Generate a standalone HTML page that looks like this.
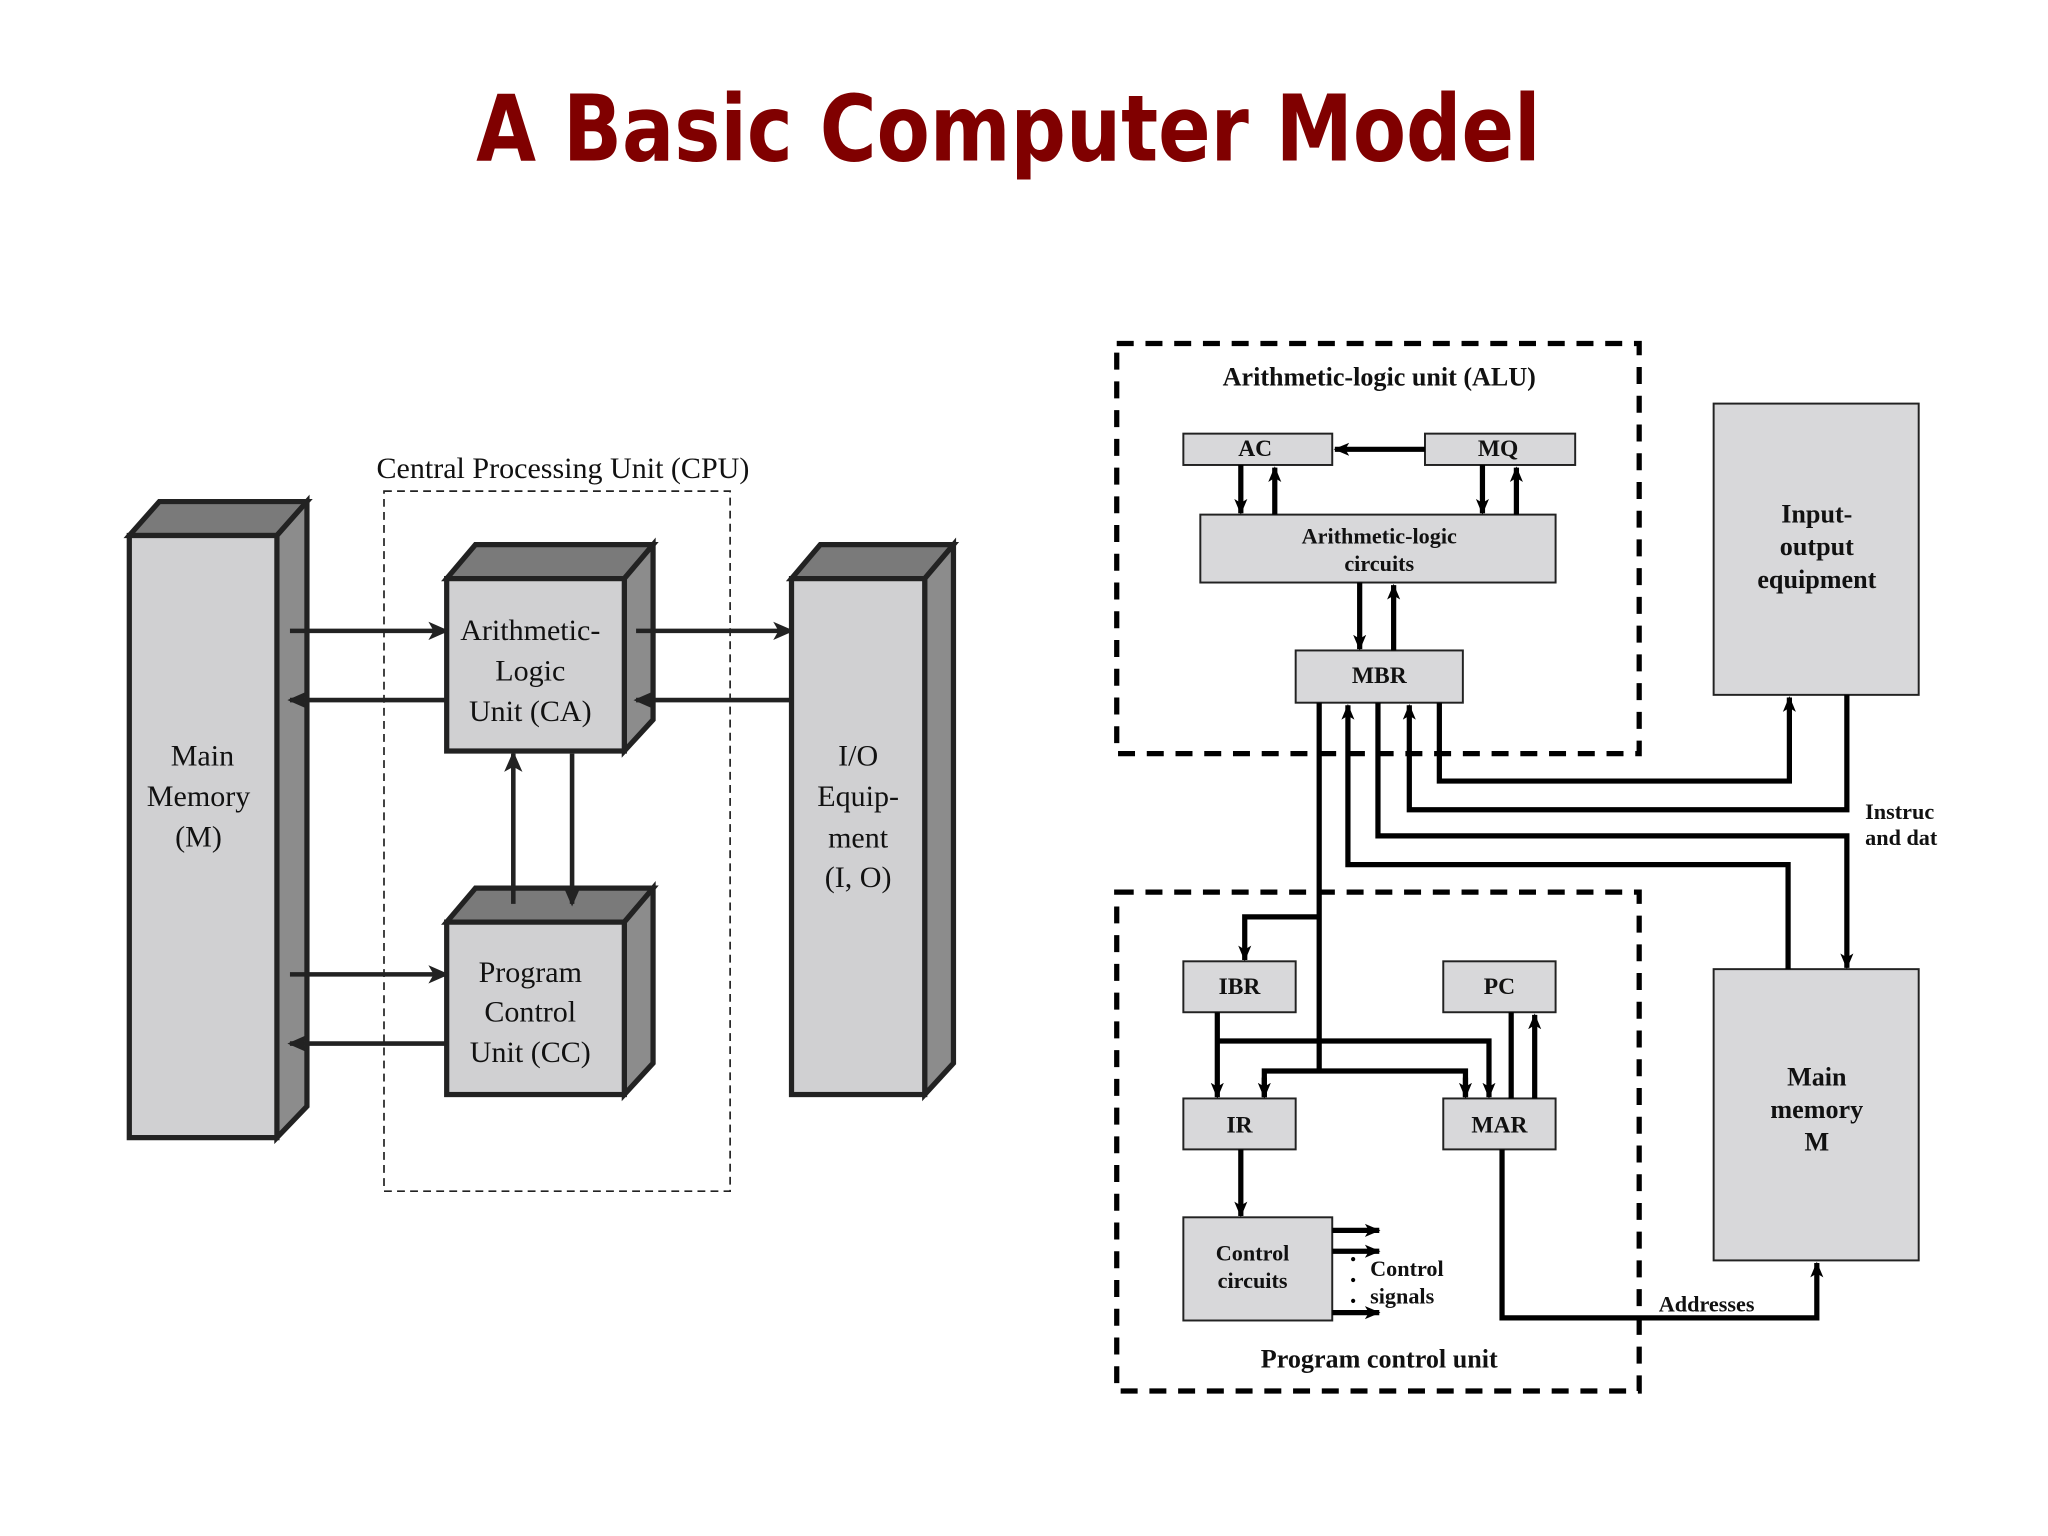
<!DOCTYPE html>
<html><head><meta charset="utf-8"><style>html,body{margin:0;padding:0;background:#fff}svg{display:block}</style></head>
<body>
<svg width="2048" height="1536" viewBox="0 0 1568 1176" xmlns="http://www.w3.org/2000/svg">
<defs>
<marker id="a" markerUnits="userSpaceOnUse" markerWidth="16" markerHeight="14" refX="14" refY="7" orient="auto"><path d="M0,0 L16,7 L0,14 L4,7 Z" fill="#222"/></marker>
<marker id="b" markerUnits="userSpaceOnUse" markerWidth="12" markerHeight="12" refX="11" refY="6" orient="auto"><path d="M0,1 L12,6 L0,11 L3,6 Z" fill="#000"/></marker>
</defs>
<rect width="1568" height="1176" fill="#fff"/>
<text x="772" y="123" text-anchor="middle" font-family="DejaVu Sans, sans-serif" font-weight="bold" font-size="70" fill="#800000" textLength="815" lengthAdjust="spacingAndGlyphs">A Basic Computer Model</text>

<!-- LEFT DIAGRAM -->
<g stroke="#222" stroke-width="4" stroke-linejoin="miter">
<polygon points="99,410 122,384 235,384 212,410" fill="#7a7a7a"/>
<polygon points="212,410 235,384 235,847 212,871" fill="#8c8c8c"/>
<rect x="99" y="410" width="113" height="461" fill="#d0d0d2"/>
<polygon points="342,443 364,417 500,417 478,443" fill="#7a7a7a"/>
<polygon points="478,443 500,417 500,551 478,575" fill="#8c8c8c"/>
<rect x="342" y="443" width="136" height="132" fill="#d0d0d2"/>
<polygon points="342,706 364,680 500,680 478,706" fill="#7a7a7a"/>
<polygon points="478,706 500,680 500,814 478,838" fill="#8c8c8c"/>
<rect x="342" y="706" width="136" height="132" fill="#d0d0d2"/>
<polygon points="606,443 628,417 730,417 708,443" fill="#7a7a7a"/>
<polygon points="708,443 730,417 730,814 708,838" fill="#8c8c8c"/>
<rect x="606" y="443" width="102" height="395" fill="#d0d0d2"/>
</g>
<rect x="294" y="376" width="265" height="536" fill="none" stroke="#222" stroke-width="1.3" stroke-dasharray="6,4"/>
<g stroke="#222" stroke-width="3.5" fill="none">
<line x1="222" y1="483" x2="342" y2="483" marker-end="url(#a)"/>
<line x1="342" y1="536" x2="222" y2="536" marker-end="url(#a)"/>
<line x1="487" y1="483" x2="606" y2="483" marker-end="url(#a)"/>
<line x1="606" y1="536" x2="487" y2="536" marker-end="url(#a)"/>
<line x1="393" y1="692" x2="393" y2="577" marker-end="url(#a)"/>
<line x1="438" y1="577" x2="438" y2="692" marker-end="url(#a)"/>
<line x1="222" y1="746" x2="342" y2="746" marker-end="url(#a)"/>
<line x1="342" y1="799" x2="222" y2="799" marker-end="url(#a)"/>
</g>
<g font-family="Liberation Serif, serif" font-size="23" fill="#111" text-anchor="middle">
<text x="431" y="366">Central Processing Unit (CPU)</text>
<text x="155" y="586">Main</text><text x="152" y="617">Memory</text><text x="152" y="648">(M)</text>
<text x="406" y="490">Arithmetic-</text><text x="406" y="521">Logic</text><text x="406" y="552">Unit (CA)</text>
<text x="406" y="752">Program</text><text x="406" y="782">Control</text><text x="406" y="813">Unit (CC)</text>
<text x="657" y="586">I/O</text><text x="657" y="617">Equip-</text><text x="657" y="649">ment</text><text x="657" y="679">(I, O)</text>
</g>

<!-- RIGHT DIAGRAM -->
<g fill="none" stroke="#000" stroke-width="4" stroke-dasharray="13,9">
<rect x="855" y="263" width="400" height="314"/>
<rect x="855" y="683" width="400" height="382"/>
</g>
<g fill="#d8d8da" stroke="#222" stroke-width="1.5">
<rect x="906" y="332" width="114" height="24"/>
<rect x="1091" y="332" width="115" height="24"/>
<rect x="919" y="394" width="272" height="52"/>
<rect x="992" y="498" width="128" height="40"/>
<rect x="1312" y="309" width="157" height="223"/>
<rect x="1312" y="742" width="157" height="223"/>
<rect x="906" y="736" width="86" height="39"/>
<rect x="1105" y="736" width="86" height="39"/>
<rect x="906" y="841" width="86" height="39"/>
<rect x="1105" y="841" width="86" height="39"/>
<rect x="906" y="932" width="114" height="79"/>
</g>
<g stroke="#000" stroke-width="4" fill="none">
<line x1="1091" y1="344" x2="1022" y2="344" marker-end="url(#b)"/>
<line x1="950" y1="356" x2="950" y2="393" marker-end="url(#b)"/>
<line x1="976" y1="394" x2="976" y2="358" marker-end="url(#b)"/>
<line x1="1135" y1="356" x2="1135" y2="393" marker-end="url(#b)"/>
<line x1="1161" y1="394" x2="1161" y2="358" marker-end="url(#b)"/>
<line x1="1041" y1="446" x2="1041" y2="497" marker-end="url(#b)"/>
<line x1="1067" y1="498" x2="1067" y2="448" marker-end="url(#b)"/>
<polyline points="1102,538 1102,598 1370,598 1370,534" marker-end="url(#b)"/>
<polyline points="1414,532 1414,620 1079,620 1079,540" marker-end="url(#b)"/>
<polyline points="1055,538 1055,640 1414,640 1414,741" marker-end="url(#b)"/>
<polyline points="1369,742 1369,662 1032,662 1032,540" marker-end="url(#b)"/>
<line x1="1010" y1="538" x2="1010" y2="820"/>
<polyline points="1010,702 953,702 953,735" marker-end="url(#b)"/>
<polyline points="968,840 968,820 1122,820 1122,840" />
<line x1="968" y1="825" x2="968" y2="840" marker-end="url(#b)"/>
<line x1="1122" y1="825" x2="1122" y2="840" marker-end="url(#b)"/>
<line x1="932" y1="775" x2="932" y2="840" marker-end="url(#b)"/>
<polyline points="932,797 1140,797 1140,840" marker-end="url(#b)"/>
<line x1="1157" y1="775" x2="1157" y2="841"/>
<line x1="1175" y1="841" x2="1175" y2="777" marker-end="url(#b)"/>
<line x1="950" y1="880" x2="950" y2="931" marker-end="url(#b)"/>
<line x1="1020" y1="942" x2="1056" y2="942" marker-end="url(#b)"/>
<line x1="1020" y1="958" x2="1056" y2="958" marker-end="url(#b)"/>
<line x1="1020" y1="1005" x2="1056" y2="1005" marker-end="url(#b)"/>
<polyline points="1150,880 1150,1009 1391,1009 1391,967" marker-end="url(#b)"/>
</g>
<g fill="#000"><circle cx="1036" cy="964" r="1.6"/><circle cx="1036" cy="980" r="1.6"/><circle cx="1036" cy="996" r="1.6"/></g>
<g font-family="Liberation Serif, serif" font-weight="bold" fill="#111" text-anchor="middle" font-size="18">
<text x="1056" y="295" font-size="20" style="font-weight:600">Arithmetic-logic unit (ALU)</text>
<text x="961" y="349">AC</text><text x="1147" y="349">MQ</text>
<text x="1056" y="416" font-size="17">Arithmetic-logic</text><text x="1056" y="437" font-size="17">circuits</text>
<text x="1056" y="523">MBR</text>
<text x="1391" y="400" font-size="20">Input-</text><text x="1391" y="425" font-size="20">output</text><text x="1391" y="450" font-size="20">equipment</text>
<text x="1391" y="831" font-size="20">Main</text><text x="1391" y="856" font-size="20">memory</text><text x="1391" y="881" font-size="20">M</text>
<text x="949" y="761">IBR</text><text x="1148" y="761">PC</text>
<text x="949" y="867">IR</text><text x="1148" y="867">MAR</text>
<text x="959" y="965" font-size="17">Control</text><text x="959" y="986" font-size="17">circuits</text>
<text x="1056" y="1047" font-size="20">Program control unit</text>
<g text-anchor="start" font-size="17">
<text x="1049" y="977">Control</text><text x="1049" y="998">signals</text>
<text x="1428" y="627">Instruc</text><text x="1428" y="647">and dat</text>
<text x="1270" y="1004">Addresses</text>
</g>
</g>
</svg>
</body></html>
